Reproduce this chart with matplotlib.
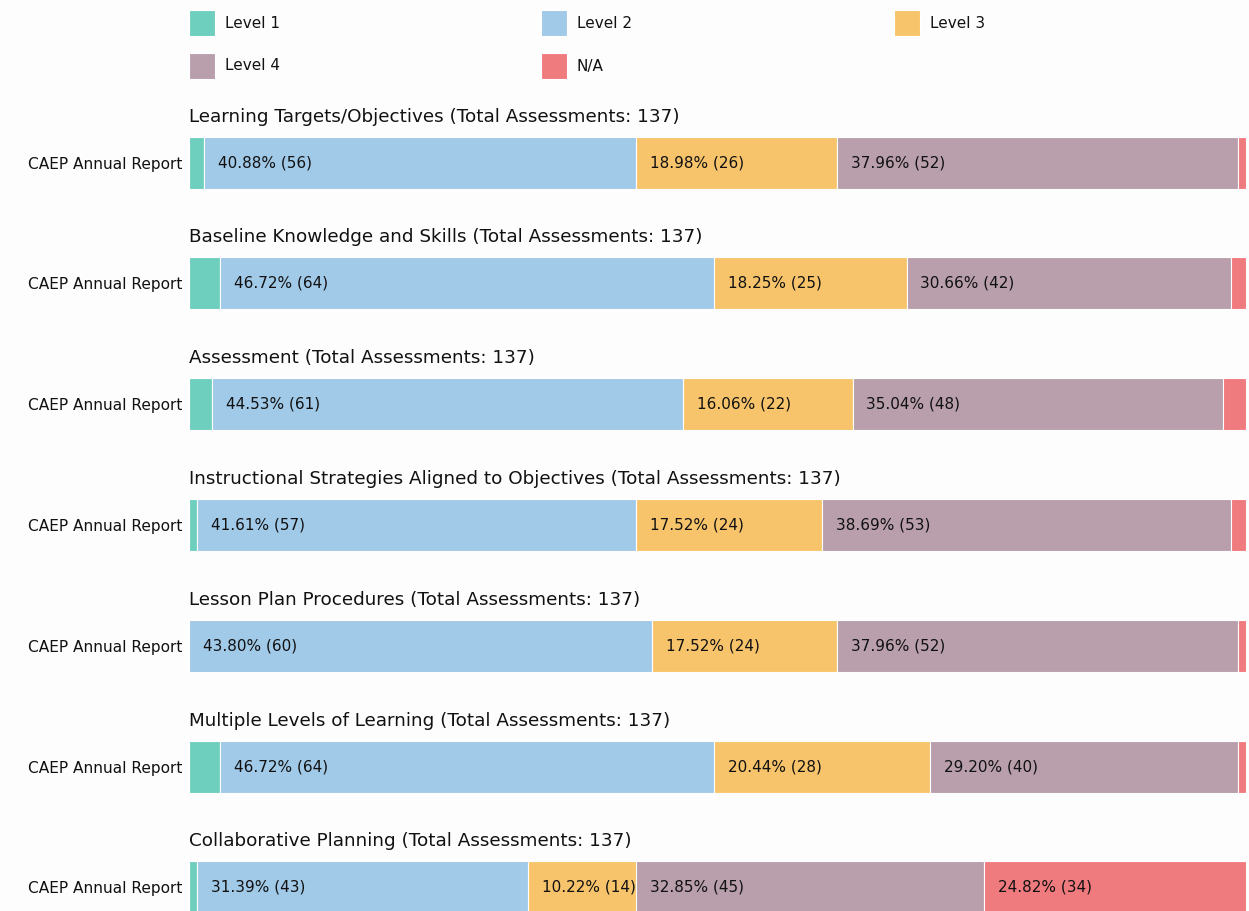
import matplotlib.pyplot as plt
from matplotlib.patches import Rectangle

W, H = 1249, 911

levels = ["Level 1", "Level 2", "Level 3", "Level 4", "N/A"]
colors = ["#6fcfbf", "#a1c9e8", "#f7c46c", "#b89fab", "#f07b7f"]

titles = [
    "Learning Targets/Objectives",
    "Baseline Knowledge and Skills",
    "Assessment",
    "Instructional Strategies Aligned to Objectives",
    "Lesson Plan Procedures",
    "Multiple Levels of Learning",
    "Collaborative Planning",
]
row_label = "CAEP Annual Report"

# counts per section: Level 1, Level 2, Level 3, Level 4, N/A
level1 = [2, 4, 3, 1, 0, 4, 1]
level2 = [56, 64, 61, 57, 60, 64, 43]
level3 = [26, 25, 22, 24, 24, 28, 14]
level4 = [52, 42, 48, 53, 52, 40, 45]
na     = [1, 2, 3, 2, 1, 1, 34]

fig = plt.figure(figsize=(W / 100, H / 100), dpi=100, facecolor="#fdfdfd")

left = 189 / W
width = (1246 - 189) / W
bar_h = 52 / H
centers = [163, 283, 404, 525, 646, 767, 887]

for i, title in enumerate(titles):
    counts = [level1[i], level2[i], level3[i], level4[i], na[i]]
    total = sum(counts)
    bottom = 1 - (centers[i] + 26) / H
    ax = fig.add_axes([left, bottom, width, bar_h])
    ax.set_facecolor("#fdfdfd")
    start = 0
    for c, col in zip(counts, colors):
        if c > 0:
            ax.barh([0], [c], left=start, height=1, color=col,
                    edgecolor="white", linewidth=0.8)
            pct = c / total * 100
            if pct >= 5:
                ax.annotate(f"{pct:.2f}% ({c})", xy=(start, 0), xytext=(10, 0),
                            textcoords="offset points", ha="left", va="center",
                            fontsize=11, color="#111111")
        start += c
    ax.set_xlim(0, total)
    ax.set_ylim(-0.5, 0.5)
    ax.set_yticks([0])
    ax.set_yticklabels([row_label], fontsize=11.1, color="#111111")
    ax.tick_params(axis="y", length=0, pad=5)
    ax.set_xticks([])
    for s in ax.spines.values():
        s.set_visible(False)
    ax.set_title(f"{title} (Total Assessments: {total})", loc="left",
                 fontsize=13.2, pad=10.5, color="#111111")

# legend laid out row by row, three columns
col_x = [189, 541, 894]
row_y = [23, 66]
for k, (lab, col) in enumerate(zip(levels, colors)):
    x = col_x[k % 3]
    y = row_y[k // 3]
    fig.patches.append(Rectangle((x / W, 1 - (y + 13) / H), 26 / W, 26 / H,
                                 transform=fig.transFigure, facecolor=col,
                                 edgecolor="white", linewidth=0.8))
    fig.text((x + 36) / W, 1 - y / H, lab, fontsize=11, va="center",
             ha="left", color="#111111")

fig.savefig("out.png", dpi=100, facecolor=fig.get_facecolor())
